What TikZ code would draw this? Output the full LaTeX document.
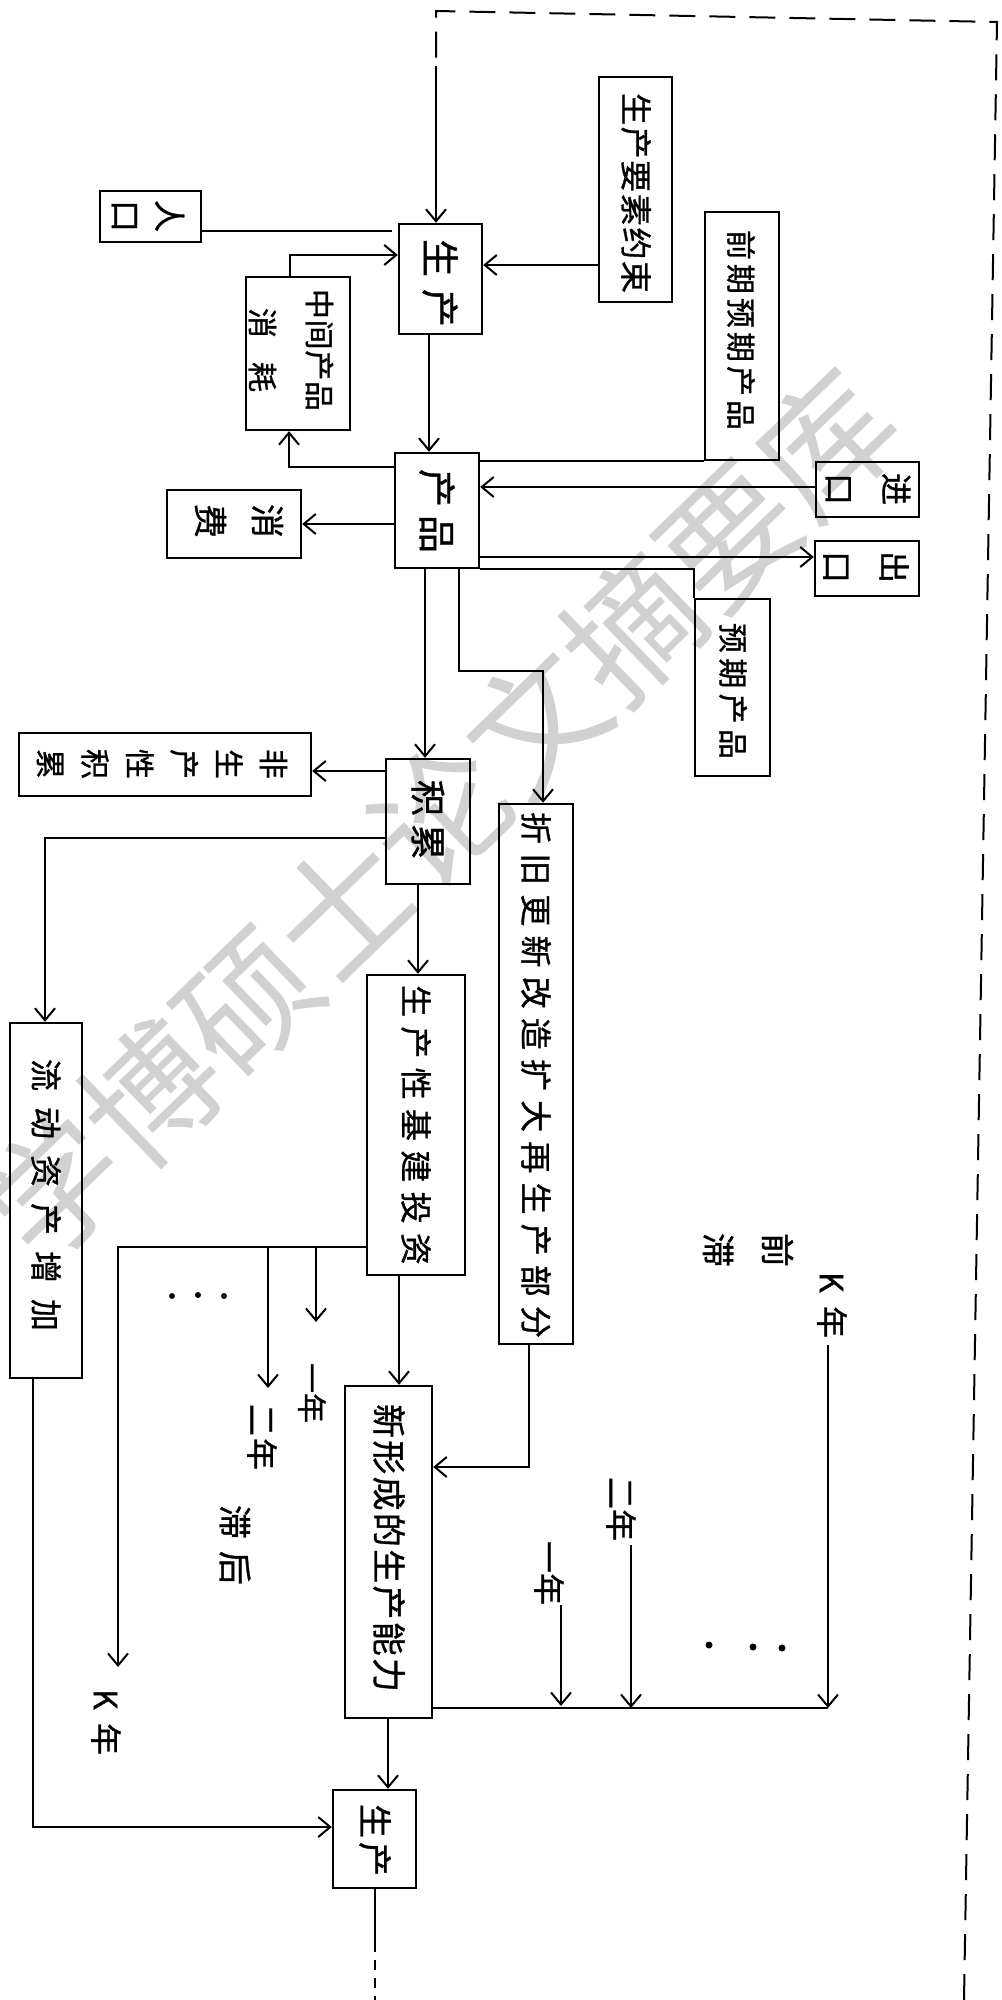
\documentclass[tikz,border=0pt]{standalone}
\usepackage{fontspec}
\usepackage{graphicx}
\newfontfamily\cjk[FakeBold=1]{Noto Sans CJK SC}
\newfontfamily\cjkw{Noto Sans CJK SC}
\usetikzlibrary{arrows.meta,fit}
\newcommand\spr[2]{\makebox[#1][s]{#2}}
\begin{document}
\begin{tikzpicture}[x=0.5pt,y=-0.5pt,
  bx/.style={draw,line width=1.2pt,inner sep=0pt},
  vt/.style={rotate=-90,inner sep=0pt},
  fs/.style={font=\cjk\fontsize{#1}{#1}\selectfont},
  ln/.style={line width=1pt},
  arr/.style={ln,-{Straight Barb[length=6pt,width=10pt,line width=1pt]}},
  dsh/.style={ln,dash pattern=on 13pt off 7pt},
]
\useasboundingbox (0,0) rectangle (1001,2000);
\clip (0,0) rectangle (1001,2000);
\fill[white] (0,0) rectangle (1001,2000);

% watermark
\node[rotate=44,text=black!18,inner sep=0pt,font=\cjkw\fontsize{67}{67}\selectfont] (wm) at (440,815) {学博硕士论文摘要库};

% boxes
\node[bx,fit={(599,77) (672,302)}] (yaosu) {};
\node[vt,fs=16] (yaosu-t) at (636,193) {\spr{100pt}{生\hfill 产\hfill 要\hfill 素\hfill 约\hfill 束}};

\node[bx,fit={(100,191) (201,242)}] (renkou) {};
\node[vt,align=center,font=\cjk\fontsize{16}{22}\selectfont] (renkou-t) at (148,216) {人\\口};

\node[bx,fit={(399,224) (482,334)}] (sc1) {};
\node[vt,fs=19] (sc1-t) at (440,283) {\spr{44pt}{生\hfill 产}};

\node[bx,fit={(246,277) (350,430)}] (zj) {};
\node[vt,align=center,font=\cjk\fontsize{15}{28.5}\selectfont] (zj-t) at (291,350) {\spr{61pt}{中\hfill 间\hfill 产\hfill 品}\\\makebox[61pt]{消\hspace{12pt}耗}};

\node[bx,fit={(705,212) (779,460)}] (qq) {};
\node[vt,fs=15] (qq-t) at (741,330) {\spr{100pt}{前\hfill 期\hfill 预\hfill 期\hfill 产\hfill 品}};

\node[bx,fit={(395,453) (479,568)}] (cp) {};
\node[vt,fs=19] (cp-t) at (437,511) {\spr{42pt}{产\hfill 品}};

\node[bx,fit={(816,462) (919,517)}] (jk) {};
\node[vt,align=center,font=\cjk\fontsize{16}{28.5}\selectfont] (jk-t) at (868,489) {进\\口};

\node[bx,fit={(815,541) (919,596)}] (ck) {};
\node[vt,align=center,font=\cjk\fontsize{16}{28.5}\selectfont] (ck-t) at (866,567) {出\\口};

\node[bx,fit={(167,490) (301,558)}] (xf) {};
\node[vt,align=center,font=\cjk\fontsize{17}{28.5}\selectfont] (xf-t) at (239,521) {消\\费};

\node[bx,fit={(695,599) (770,776)}] (yq) {};
\node[vt,fs=15] (yq-t) at (733,691) {\spr{68pt}{预\hfill 期\hfill 产\hfill 品}};

\node[bx,fit={(386,759) (470,884)}] (jl) {};
\node[vt,fs=18] (jl-t) at (428,820) {\spr{40pt}{积\hfill 累}};

\node[bx,fit={(19,733) (311,796)}] (ffsc) {};
\node[vt,align=center,font=\cjk\fontsize{15}{22.3}\selectfont] (ffsc-t) at (162,764) {非\\生\\产\\性\\积\\累};

\node[bx,fit={(499,804) (573,1344)}] (zjgx) {};
\node[vt,fs=16] (zjgx-t) at (536,1075) {\spr{263pt}{折\hfill 旧\hfill 更\hfill 新\hfill 改\hfill 造\hfill 扩\hfill 大\hfill 再\hfill 生\hfill 产\hfill 部\hfill 分}};

\node[bx,fit={(10,1023) (82,1378)}] (ld) {};
\node[vt,fs=16] (ld-t) at (46,1195) {\spr{136pt}{流\hfill 动\hfill 资\hfill 产\hfill 增\hfill 加}};

\node[bx,fit={(367,975) (465,1275)}] (jj) {};
\node[vt,fs=16] (jj-t) at (416,1125) {\spr{140pt}{生\hfill 产\hfill 性\hfill 基\hfill 建\hfill 投\hfill 资}};

\node[bx,fit={(345,1386) (432,1718)}] (xxc) {};
\node[vt,fs=17] (xxc-t) at (389,1548) {\spr{144pt}{新\hfill 形\hfill 成\hfill 的\hfill 生\hfill 产\hfill 能\hfill 力}};

\node[bx,fit={(333,1790) (416,1888)}] (sc2) {};
\node[vt,fs=17] (sc2-t) at (375,1840) {\spr{36pt}{生\hfill 产}};

% labels
\node[vt,fs=15] (l1) at (312,1391) {\spr{28pt}{一\hfill 年}};
\node[vt,fs=16] (l2) at (262,1437) {\spr{33pt}{二\hfill 年}};
\node[vt,fs=17] (l3) at (235,1545) {\spr{40pt}{滞\hfill 后}};
\node[vt,fs=16] (l4) at (106,1722) {\spr{33pt}{K\hfill 年}};
\node[vt,fs=16] (r4) at (832,1305) {\spr{33pt}{K\hfill 年}};
\node[vt,align=center,font=\cjk\fontsize{17}{29.5}\selectfont] (r0) at (748,1250) {前\\滞};
\node[vt,fs=16] (r2) at (621,1509) {\spr{32pt}{二\hfill 年}};
\node[vt,fs=16] (r1) at (549,1571) {\spr{30pt}{一\hfill 年}};

\fill (172,1296) circle (3);
\fill (198,1295) circle (3);
\fill (224,1296) circle (3);
\fill (709,1645) circle (3.5);
\fill (753,1647) circle (3.5);
\fill (782,1648) circle (3.5);

% dashed frame
\coordinate (fA) at (436,11);
\coordinate (fB) at (997,22);
\coordinate (fC) at (964,2000);
\coordinate (fD) at (436,66);
\draw[dsh] (fC) -- (fB) -- (fA) -- (fD);
\draw[arr] (fD) -- (fD |- sc1.north);

% connectors
\coordinate (h265) at (0,265);
\draw[arr] (yaosu.west |- h265) -- (sc1.east |- h265);
\coordinate (h231) at (0,231);
\draw[ln,shorten >=3pt] (renkou.east |- h231) -- (sc1.west |- h231);
\coordinate (zjb) at (290,255);
\draw[arr] (zjb |- zj.north) -- (zjb) -- (sc1.west |- zjb);
\coordinate (v429) at (429,0);
\draw[arr] (v429 |- sc1.south) -- (v429 |- cp.north);
\coordinate (cz) at (289,467);
\draw[arr] (cp.west |- cz) -- (cz) -- (cz |- zj.south);
\draw[ln] (qq.south west) -- (cp.east |- qq.south west);
\coordinate (h487) at (0,487);
\draw[arr] (jk.west |- h487) -- (cp.east |- h487);
\coordinate (h557) at (0,557);
\draw[arr] (cp.east |- h557) -- (ck.west |- h557);
\coordinate (h524) at (0,524);
\draw[arr] (cp.west |- h524) -- (xf.east |- h524);
\draw[ln] (cp.south east) -| (yq.north west);
\coordinate (k1) at (459,671);
\coordinate (k2) at (543,671);
\draw[arr] (k1 |- cp.south) -- (k1) -- (k2) -- (k2 |- zjgx.north);
\coordinate (v425) at (425,0);
\draw[arr] (v425 |- cp.south) -- (v425 |- jl.north);
\coordinate (h771) at (0,771);
\draw[arr] (jl.west |- h771) -- (ffsc.east |- h771);
\coordinate (k3) at (45,838);
\draw[arr] (jl.west |- k3) -- (k3) -- (k3 |- ld.north);
\coordinate (v418) at (418,0);
\draw[arr] (v418 |- jl.south) -- (v418 |- jj.north);
\coordinate (k4) at (118,1247);
\coordinate (e4) at (118,1667);
\draw[arr] (jj.west |- k4) -- (k4) -- (e4);
\coordinate (s1) at (316,1247);
\coordinate (e1) at (316,1322);
\draw[arr] (s1) -- (e1);
\coordinate (s2) at (268,1247);
\coordinate (e2) at (268,1388);
\draw[arr] (s2) -- (e2);
\coordinate (v399) at (399,0);
\draw[arr] (v399 |- jj.south) -- (v399 |- xxc.north);
\coordinate (k5) at (529,1467);
\draw[arr] (k5 |- zjgx.south) -- (k5) -- (xxc.east |- k5);
\coordinate (v388) at (388,0);
\draw[arr] (v388 |- xxc.south) -- (v388 |- sc2.north);
\coordinate (k6) at (33,1827);
\draw[arr] (k6 |- ld.south) -- (k6) -- (sc2.west |- k6);
\coordinate (o1) at (375,1942);
\coordinate (o2) at (375,2000);
\draw[ln] (o1 |- sc2.south) -- (o1);
\draw[ln,dash pattern=on 5pt off 4pt] (o1) -- (o2);
\coordinate (h1708) at (0,1708);
\coordinate (rK) at (828,1708);
\draw[ln] (xxc.east |- h1708) -- (rK);
\coordinate (rKs) at (828,1345);
\draw[arr] (rKs) -- (rK);
\coordinate (r2s) at (631,1545);
\coordinate (r2e) at (631,1708);
\draw[arr] (r2s) -- (r2e);
\coordinate (r1s) at (561,1605);
\coordinate (r1e) at (561,1706);
\draw[arr] (r1s) -- (r1e);
\end{tikzpicture}
\end{document}
